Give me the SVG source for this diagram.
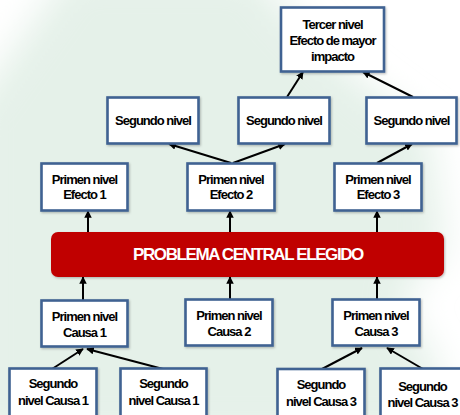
<svg xmlns="http://www.w3.org/2000/svg" width="460" height="415" viewBox="0 0 460 415">
  <style>
    .box { fill: #ffffff; stroke: #3f6292; stroke-width: 2.6; filter: url(#shadow); }
    .lbl { font-family: "Liberation Sans", Arial, sans-serif; font-weight: bold; font-size: 13px; letter-spacing: -1px; fill: #000000; text-anchor: middle; }
    .core { font-family: "Liberation Sans", Arial, sans-serif; font-weight: bold; font-size: 17px; letter-spacing: -1.4px; fill: #ffffff; text-anchor: middle; }
    .arrow { fill: none; stroke: #000000; stroke-width: 2; marker-end: url(#head); }
  </style>
  <defs>
    <marker id="head" viewBox="0 0 10 10" refX="9" refY="5" markerWidth="7.5" markerHeight="7.5" markerUnits="userSpaceOnUse" orient="auto">
      <path d="M0,0 L10,5 L0,10 z" fill="#000000"/>
    </marker>
    <filter id="shadow" x="-10%" y="-10%" width="125%" height="125%">
      <feDropShadow dx="1" dy="1.2" stdDeviation="0.8" flood-color="#000000" flood-opacity="0.25"/>
    </filter>
    <filter id="haze" x="-20%" y="-20%" width="140%" height="140%">
      <feGaussianBlur stdDeviation="18"/>
    </filter>
  </defs>

  <!-- pale backdrop -->
  <rect width="460" height="415" fill="#ffffff"/>
  <path d="M70,-30 L255,-30 Q320,60 430,130 L445,250 L400,300 L440,370 L440,440 L-30,440 L-30,110 Q20,40 70,-30 Z" fill="#e5f1e9" filter="url(#haze)"/>

  <!-- connectors -->
  <g id="connectors">
    <!-- causes into first-level causes -->
    <line class="arrow" x1="52" y1="369" x2="83" y2="349"/>
    <line class="arrow" x1="163" y1="369" x2="87" y2="349"/>
    <line class="arrow" x1="322" y1="369" x2="362" y2="348"/>
    <line class="arrow" x1="423" y1="369" x2="387" y2="348"/>
    <!-- first-level causes into the central problem -->
    <line class="arrow" x1="83" y1="300" x2="83" y2="277"/>
    <line class="arrow" x1="230" y1="299" x2="230" y2="277"/>
    <line class="arrow" x1="377" y1="299" x2="377" y2="277"/>
    <!-- central problem into first-level effects -->
    <line class="arrow" x1="88" y1="232" x2="88" y2="211"/>
    <line class="arrow" x1="230" y1="232" x2="230" y2="211"/>
    <line class="arrow" x1="377" y1="232" x2="377" y2="211"/>
    <!-- first-level effects into second level -->
    <line class="arrow" x1="231" y1="163" x2="169" y2="144"/>
    <line class="arrow" x1="233" y1="163" x2="285" y2="144"/>
    <line class="arrow" x1="377" y1="163" x2="412" y2="144"/>
    <!-- second level into third level -->
    <line class="arrow" x1="287" y1="97" x2="303" y2="72"/>
    <line class="arrow" x1="413" y1="97" x2="363" y2="72"/>
  </g>

  <g id="tercer-nivel">
    <rect class="box" x="281" y="7.5" width="103" height="64"/>
    <text class="lbl" x="332.5" y="28.5">Tercer nivel</text>
    <text class="lbl" x="332.5" y="44.5">Efecto de mayor</text>
    <text class="lbl" x="332.5" y="60.5">impacto</text>
  </g>

  <g id="segundo-nivel-1">
    <rect class="box" x="107.5" y="97.5" width="91" height="46"/>
    <text class="lbl" x="153" y="125">Segundo nivel</text>
  </g>
  <g id="segundo-nivel-2">
    <rect class="box" x="238.5" y="97.5" width="91" height="46"/>
    <text class="lbl" x="284" y="125">Segundo nivel</text>
  </g>
  <g id="segundo-nivel-3">
    <rect class="box" x="366.5" y="97.5" width="90" height="46"/>
    <text class="lbl" x="411.5" y="125">Segundo nivel</text>
  </g>

  <g id="efecto-1">
    <rect class="box" x="41.5" y="163.5" width="86" height="47"/>
    <text class="lbl" x="84.5" y="183.5">Primen nivel</text>
    <text class="lbl" x="84.5" y="199">Efecto 1</text>
  </g>
  <g id="efecto-2">
    <rect class="box" x="187.5" y="163.5" width="87" height="47"/>
    <text class="lbl" x="231" y="183.5">Primen nivel</text>
    <text class="lbl" x="231" y="199">Efecto 2</text>
  </g>
  <g id="efecto-3">
    <rect class="box" x="334.5" y="163.5" width="87" height="47"/>
    <text class="lbl" x="378" y="183.5">Primen nivel</text>
    <text class="lbl" x="378" y="199">Efecto 3</text>
  </g>

  <g id="problema-central">
    <rect x="51" y="232" width="393" height="45" rx="7" fill="#c00000" filter="url(#shadow)"/>
    <text class="core" x="248" y="260">PROBLEMA CENTRAL ELEGIDO</text>
  </g>

  <g id="causa-1">
    <rect class="box" x="41.5" y="300.5" width="86" height="46"/>
    <text class="lbl" x="84.5" y="320.5">Primen nivel</text>
    <text class="lbl" x="84.5" y="336.5">Causa 1</text>
  </g>
  <g id="causa-2">
    <rect class="box" x="185.5" y="299.5" width="87" height="46"/>
    <text class="lbl" x="229" y="319.5">Primen nivel</text>
    <text class="lbl" x="229" y="335.5">Causa 2</text>
  </g>
  <g id="causa-3">
    <rect class="box" x="332.5" y="299.5" width="87" height="46"/>
    <text class="lbl" x="376" y="319.5">Primen nivel</text>
    <text class="lbl" x="376" y="335.5">Causa 3</text>
  </g>

  <g id="segundo-causa-1a">
    <rect class="box" x="9.5" y="368.5" width="87" height="60"/>
    <text class="lbl" x="53" y="388">Segundo</text>
    <text class="lbl" x="53" y="404.5">nivel Causa 1</text>
  </g>
  <g id="segundo-causa-1b">
    <rect class="box" x="120.5" y="368.5" width="86" height="60"/>
    <text class="lbl" x="163.5" y="388">Segundo</text>
    <text class="lbl" x="163.5" y="404.5">nivel Causa 1</text>
  </g>
  <g id="segundo-causa-3a">
    <rect class="box" x="277.5" y="369" width="87" height="60"/>
    <text class="lbl" x="321" y="389">Segundo</text>
    <text class="lbl" x="321" y="405.5">nivel Causa 3</text>
  </g>
  <g id="segundo-causa-3b">
    <rect class="box" x="380.5" y="368.5" width="84" height="60"/>
    <text class="lbl" x="422.5" y="391">Segundo</text>
    <text class="lbl" x="422.5" y="406.5">nivel Causa 3</text>
  </g>
</svg>
